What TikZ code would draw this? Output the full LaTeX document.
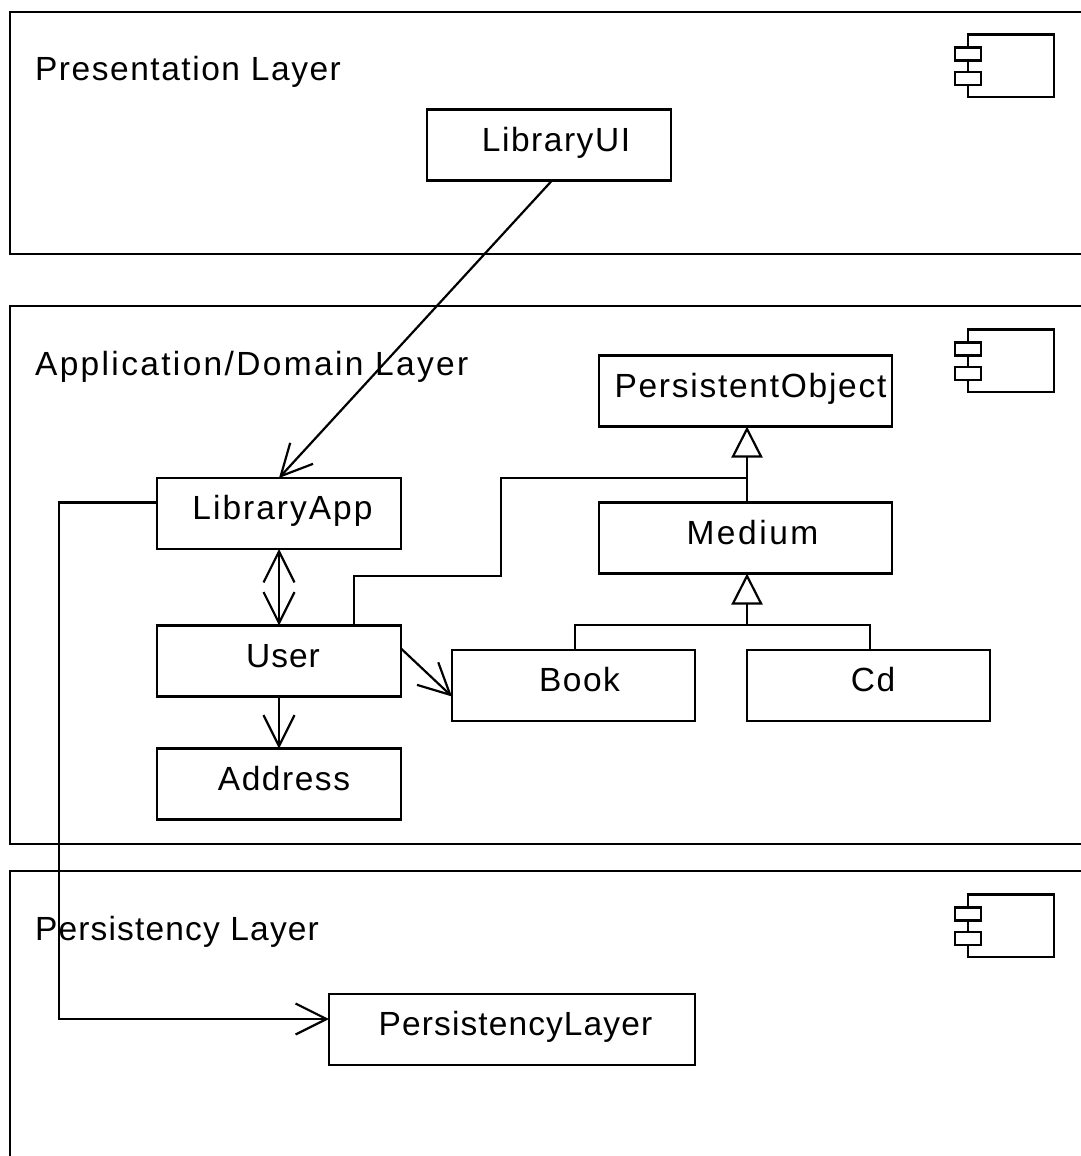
\documentclass[tikz,border=0pt]{standalone}
\usepackage{fontspec}
\setmainfont[LetterSpace=4.6]{Liberation Sans}
\usetikzlibrary{arrows.meta,calc,positioning}
\newcommand{\spaced}[2]{{\addfontfeature{LetterSpace=#1}#2}}
\tikzset{
  openhead/.style={-{Straight Barb[length=31pt,width=31pt,line width=2.2pt]}},
  bothhead/.style={{Straight Barb[length=31pt,width=31pt,line width=2.2pt]}-{Straight Barb[length=31pt,width=31pt,line width=2.2pt]}},
  genhead/.style={-{Triangle[open,length=31pt,width=31pt,line width=2.2pt,fill=white]}},
}
\begin{document}
\begin{tikzpicture}
[
x=1pt,y=-1pt,line width=2.2pt,line join=miter,
font=\fontsize{33.5pt}{36pt}\selectfont,
layerbox/.style={rectangle, draw=black, minimum width=1120pt, outer sep=0pt, inner sep=0pt},
layerlabel/.style={anchor=base west, inner sep=0pt},
classbox/.style={rectangle, draw=black, minimum height=71pt, outer sep=0pt, inner sep=0pt, text height=41.5pt, text depth=29.5pt},
]
\useasboundingbox (0,0) rectangle (1081,1156);

%Layers
\node[layerbox, minimum height=242pt] (presentation) at (570,133) {};
\node[layerbox, minimum height=538pt] (application)  at (570,575) {};
\node[layerbox, minimum height=340pt] (persistency)  at (570,1041) {};
\node[layerlabel] (presentation-L) at (34,80.5)  {Presentation Layer};
\node[layerlabel] (application-L)  at (34,375.5) {\spaced{7}{Application/Domain Layer}};
\node[layerlabel] (persistency-L)  at (34,940) {\spaced{3.5}{Persistency Layer}};

%Component icons
\foreach \dy in {0,295,860} {
  \draw ([yshift=-\dy pt]968,47.5) -- ++(0,-13) -- ++(86,0) -- ++(0,62.5) -- ++(-86,0) -- ++(0,-12);
  \draw ([yshift=-\dy pt]968,60.5) -- ++(0,11.5);
  \draw ([yshift=-\dy pt]955,47.5) rectangle ++(26,13);
  \draw ([yshift=-\dy pt]955,72) rectangle ++(26,13);
}

%Classes
\node[classbox, minimum width=244pt] (libraryui)  at (549,145)    {\hspace*{14pt}LibraryUI};
\node[classbox, minimum width=293pt] (persistentobject) at (745.5,391) {\hspace*{10pt}\spaced{5.2}{PersistentObject}};
\node[classbox, minimum width=244pt] (libraryapp) at (279,513.5)  {\hspace*{7pt}\spaced{6}{LibraryApp}};
\node[classbox, minimum width=293pt] (medium)     at (745.5,538)  {\hspace*{14pt}\spaced{7.6}{Medium}};
\node[classbox, minimum width=244pt] (user)       at (279,661)    {\hspace*{8pt}\spaced{3}{User}};
\node[classbox, minimum width=243pt] (book)       at (573.5,685.5) {\hspace*{12pt}Book};
\node[classbox, minimum width=243pt] (cd)         at (868.5,685.5) {\hspace*{9pt}Cd};
\node[classbox, minimum width=244pt] (address)    at (279,784)    {\hspace*{10pt}Address};
\node[classbox, minimum width=366pt] (persistencylayer) at (512,1029.5) {\hspace*{7pt}\spaced{3.3}{PersistencyLayer}};

%Lines
\draw[openhead] ([xshift=3pt]libraryui.south) -- (libraryapp.north);
\draw[bothhead] (libraryapp.south) -- (user.north);
\draw[openhead] (user.south) -- (address.north);
\draw[openhead] ([yshift=12.5pt]user.east) -- ([yshift=-11pt]book.west);
\draw[openhead] ([yshift=11pt]libraryapp.west) -| (59,1019) -- ([yshift=10.5pt]persistencylayer.west);
\draw[genhead]  ([xshift=1.5pt]medium.north) -- ([xshift=1.5pt]persistentobject.south);
\draw ([xshift=75pt]user.north) |- (501,576) |- (747,478);
\draw[genhead]  (747,625) -- ([xshift=1.5pt]medium.south);
\draw ([xshift=1.5pt]book.north) |- (747,625) -| ([xshift=1.5pt]cd.north);
\end{tikzpicture}
\end{document}
